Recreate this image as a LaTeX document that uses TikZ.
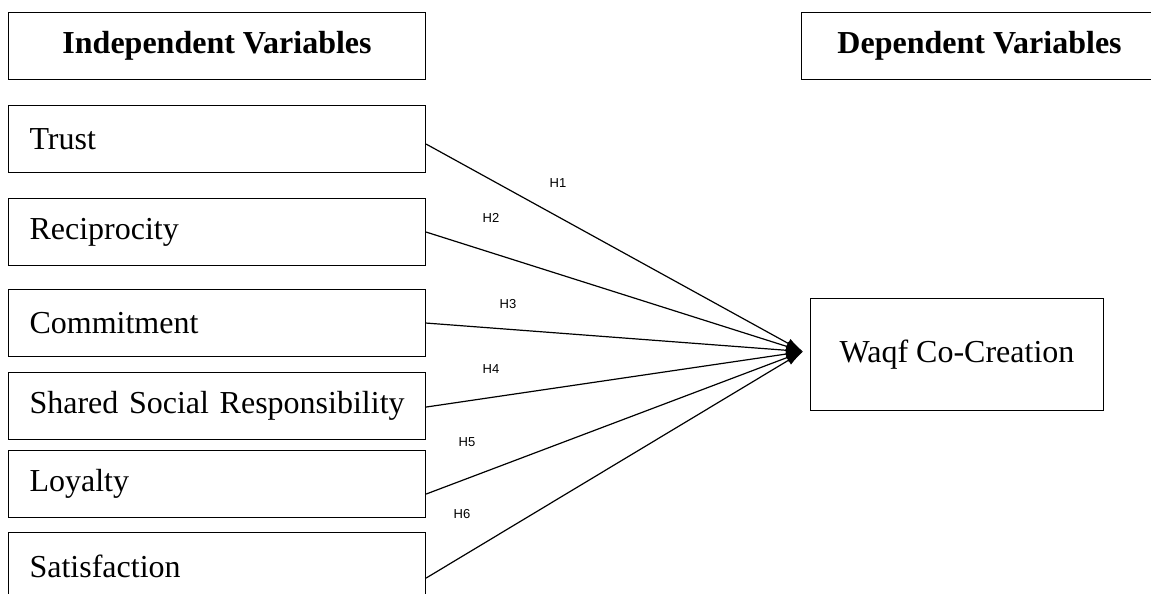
\documentclass[tikz,border=0pt]{standalone}
\usepackage{fontspec}
\setmainfont{Liberation Serif}
\newfontfamily\hfont{Liberation Sans}
\usetikzlibrary{arrows.meta}
\tikzset{
  hdrbox/.style={draw, line width=1.1pt, minimum height=67pt, anchor=north west, inner sep=0pt,
    font=\fontsize{32}{38}\selectfont\bfseries},
  varbox/.style={draw, line width=1.1pt, minimum height=67pt, anchor=north west, inner xsep=21pt, inner ysep=0pt,
    text width=375pt, align=left, font=\fontsize{32}{38}\selectfont},
  depbox/.style={draw, line width=1.1pt, minimum width=293pt, minimum height=112pt, anchor=north west,
    font=\fontsize{32}{38}\selectfont},
  link/.style={line width=1.2pt, -{Latex[length=17pt,width=10pt]}},
  hlab/.style={font=\hfont\fontsize{13}{15}\selectfont, inner sep=1pt}
}
\begin{document}
\begin{tikzpicture}[x=1pt,y=-1pt]
\useasboundingbox (0,0) rectangle (1151,594);
\clip (0,0) rectangle (1151,594);
\node[hdrbox, minimum width=417pt] (ih) at (8,12) {Independent Variables};
\node[hdrbox, minimum width=356pt] (dh) at (801,12) {Dependent Variables};
\node[varbox] (t) at (8,105) {Trust};
\node[varbox] (r) at (8,198) {Reciprocity};
\node[varbox] (c) at (8,289) {Commitment};
\node[varbox] (s) at (8,372) {\mbox{Shared Social Responsibility}};
\node[varbox] (l) at (8,450) {Loyalty};
\node[varbox] (sa) at (8,532) {Satisfaction};
\node[depbox] (w) at (810,298) {Waqf Co-Creation};
\coordinate (tip) at ([xshift=-7pt,yshift=3pt]w.west);
\draw[link] ([yshift=-5pt]t.east) -- (tip);
\draw[link] (r.east) -- (tip);
\draw[link] (c.east) -- (tip);
\draw[link] ([yshift=-1pt]s.east) -- (tip);
\draw[link] ([yshift=-10pt]l.east) -- (tip);
\draw[link] ([yshift=-12pt]sa.east) -- (tip);
\node[hlab] (h1) at (558,183) {H1};
\node[hlab] (h2) at (491,218) {H2};
\node[hlab] (h3) at (508,304) {H3};
\node[hlab] (h4) at (491,369) {H4};
\node[hlab] (h5) at (467,442) {H5};
\node[hlab] (h6) at (462,514) {H6};
\end{tikzpicture}
\end{document}
